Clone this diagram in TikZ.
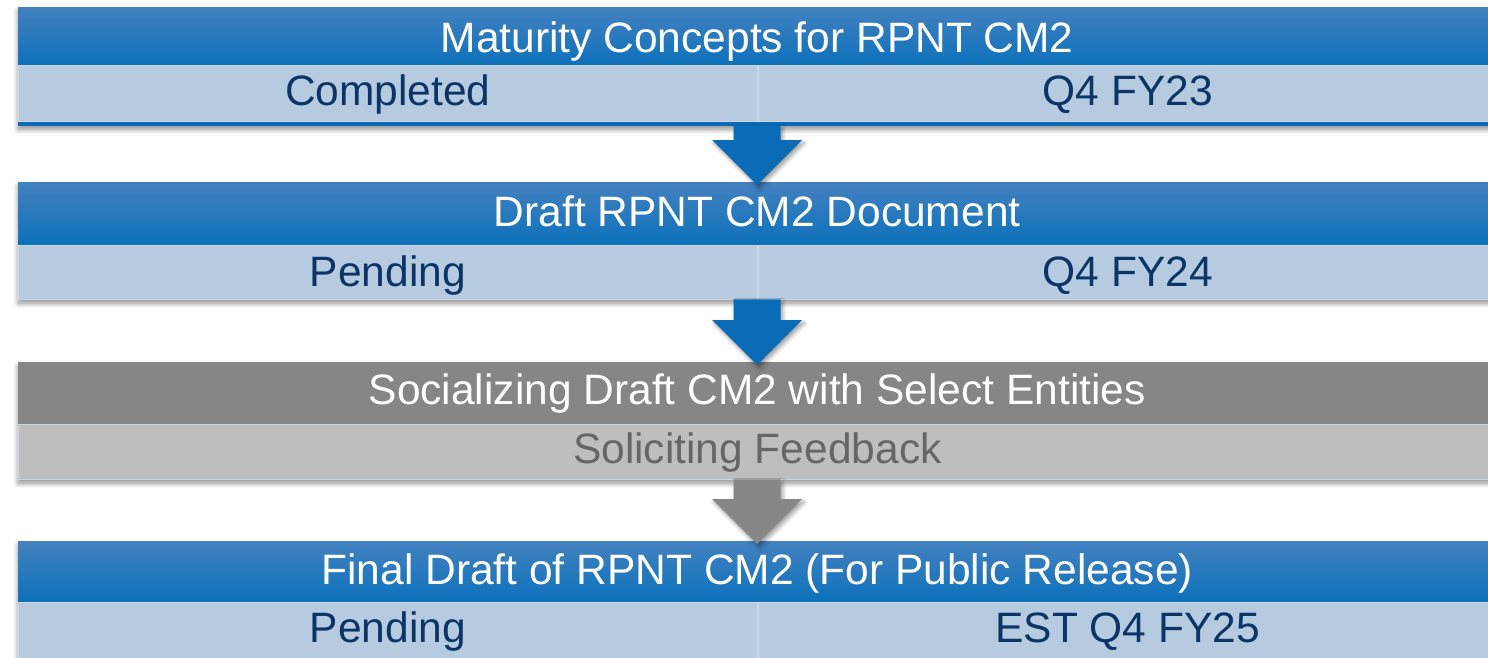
\documentclass[tikz,border=0pt]{standalone}
\usepackage{fontspec}
\setmainfont{Liberation Sans}
\usetikzlibrary{shadows.blur,calc}

\definecolor{hdtop}{HTML}{4381BF}
\definecolor{hdbot}{HTML}{0C71BB}
\definecolor{rowblue}{HTML}{B7CBE0}
\definecolor{rowline}{HTML}{CAD8E7}
\definecolor{navy}{HTML}{0B3467}
\definecolor{flowblue}{HTML}{0A6CB6}
\definecolor{hdgray}{HTML}{868686}
\definecolor{rowgray}{HTML}{BEBEBE}
\definecolor{txtgray}{HTML}{666666}
\definecolor{flowgray}{HTML}{878787}

\newcommand\flowarrow[3]{%
  \fill[#3, arrowshadow]
    let \p1 = (#1.south), \p2 = (#2.north) in
    (\x1-23.5pt,\y1) -- (\x1+23.5pt,\y1) -- (\x1+23.5pt,\y2+42pt)
    -- (\x1+45pt,\y2+42pt) -- (\x1,\y2-3pt) -- (\x1-45pt,\y2+42pt)
    -- (\x1-23.5pt,\y2+42pt) -- cycle;}

\begin{document}
\begin{tikzpicture}[x=1pt,y=-1pt,
  font=\fontsize{42.5}{48}\selectfont,
  card/.style={anchor=north west, inner sep=0pt, minimum width=1478pt,
    fill=white,
    blur shadow={shadow xshift=0pt, shadow yshift=-4pt,
      shadow blur radius=5pt, shadow blur steps=10, shadow opacity=45}},
  arrowshadow/.style={blur shadow={shadow xshift=2pt, shadow yshift=-3pt,
      shadow blur radius=4pt, shadow blur steps=8, shadow opacity=40}},
  hdr/.style={anchor=north west, inner sep=0pt, minimum width=1478pt},
  hdrblue/.style={hdr, top color=hdtop, bottom color=hdbot},
  hdrgray/.style={hdr, fill=hdgray},
  cell/.style={anchor=north west, inner sep=0pt, draw=rowline, line width=0.8pt},
  cellblue/.style={cell, fill=rowblue, minimum width=739pt},
  cellgray/.style={cell, fill=rowgray, minimum width=1478pt},
  strip/.style={anchor=north west, inner sep=0pt, fill=flowblue,
    minimum width=1478pt, minimum height=4pt},
  title/.style={anchor=base, inner sep=0pt, text=white},
  status/.style={anchor=base, inner sep=0pt, text=navy},
  statusgray/.style={anchor=base, inner sep=0pt, text=txtgray}
]
\useasboundingbox (0,0) rectangle (1488,657);

% stage 1
\node[card, minimum height=118pt] (c1) at (18,7) {};
\node[hdrblue, minimum height=58pt] (h1) at (c1.north west) {};
\node[cellblue, minimum height=56pt] (s1a) at (h1.south west) {};
\node[cellblue, minimum height=56pt] (s1b) at (s1a.north east) {};
\node[strip] (b1) at (s1a.south west) {};
\node[title]  (t1)  at ($(h1.north)+(0,45)$)  {Maturity Concepts for RPNT CM2};
\node[status] (t1a) at ($(s1a.north)+(0,40)$) {Completed};
\node[status] (t1b) at ($(s1b.north)+(0,40)$) {Q4 FY23};

% stage 2
\node[card, minimum height=117pt] (c2) at (18,182) {};
\node[hdrblue, minimum height=63pt] (h2) at (c2.north west) {};
\node[cellblue, minimum height=54pt] (s2a) at (h2.south west) {};
\node[cellblue, minimum height=54pt] (s2b) at (s2a.north east) {};
\node[title]  (t2)  at ($(h2.north)+(0,44)$)  {Draft RPNT CM2 Document};
\node[status] (t2a) at ($(s2a.north)+(0,41)$) {Pending};
\node[status] (t2b) at ($(s2b.north)+(0,41)$) {Q4 FY24};

% stage 3
\node[card, minimum height=117pt] (c3) at (18,362) {};
\node[hdrgray, minimum height=62pt] (h3) at (c3.north west) {};
\node[cellgray, minimum height=55pt] (s3) at (h3.south west) {};
\node[title]      (t3)  at ($(h3.north)+(0,42)$) {Socializing Draft CM2 with Select Entities};
\node[statusgray] (t3a) at ($(s3.north)+(0,39)$) {Soliciting Feedback};

% stage 4
\node[card, minimum height=118pt] (c4) at (18,541) {};
\node[hdrblue, minimum height=61pt] (h4) at (c4.north west) {};
\node[cellblue, minimum height=56pt] (s4a) at (h4.south west) {};
\node[cellblue, minimum height=56pt] (s4b) at (s4a.north east) {};
\node[title]  (t4)  at ($(h4.north)+(0,43.5)$) {Final Draft of RPNT CM2 (For Public Release)};
\node[status] (t4a) at ($(s4a.north)+(0,40.5)$) {Pending};
\node[status] (t4b) at ($(s4b.north)+(0,40.5)$) {EST Q4 FY25};

% flow arrows between stages
\flowarrow{c1}{c2}{flowblue}
\flowarrow{c2}{c3}{flowblue}
\flowarrow{c3}{c4}{flowgray}
\end{tikzpicture}
\end{document}
